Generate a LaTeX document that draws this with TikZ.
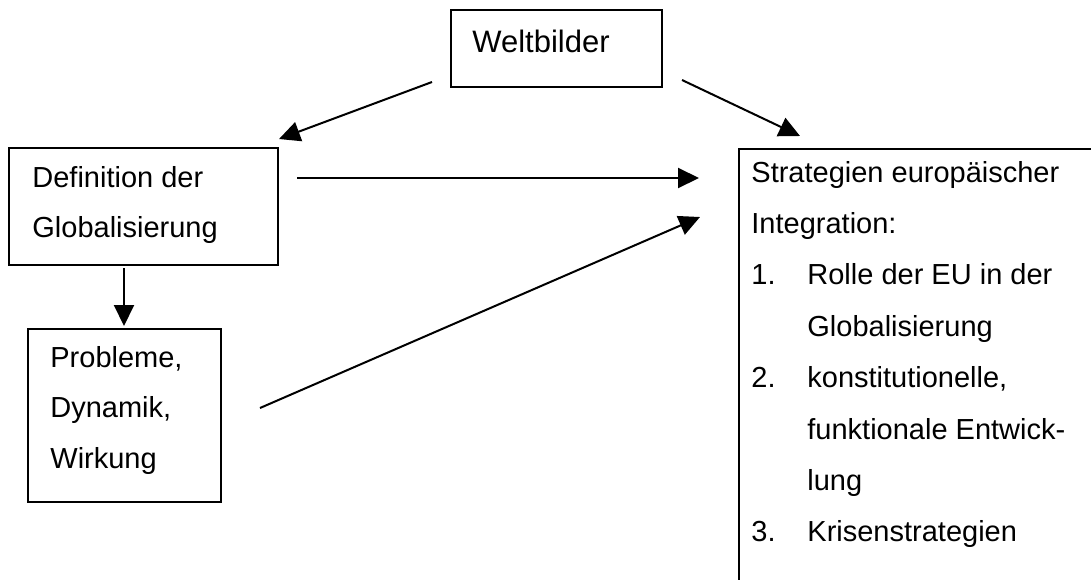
\documentclass[tikz,border=0pt]{standalone}
\usepackage{fontspec}
\setmainfont{Liberation Sans}
\usetikzlibrary{arrows.meta}
\tikzset{
  box/.style={draw=black, line width=1pt, inner sep=0pt, fill=none},
  txt/.style={inner sep=0pt, anchor=base west, font=\fontsize{14.5pt}{17pt}\selectfont},
  bigtxt/.style={inner sep=0pt, anchor=base west, font=\fontsize{15.5pt}{18pt}\selectfont},
  conn/.style={line width=1pt, -{Triangle[length=10.5pt, width=10pt]}},
}
\begin{document}
\begin{tikzpicture}[x=0.5pt, y=-0.5pt]
\useasboundingbox (0,0) rectangle (1091,579);
\clip (0,0) rectangle (1091,579);
\fill[white] (0,0) rectangle (1091,579);
% boxes
\node[box, minimum width=105.5pt, minimum height=38.5pt] (wb) at (556.5,48.5) {};
\node[box, minimum width=134.5pt, minimum height=58.5pt] (def) at (143.5,206.5) {};
\node[box, minimum width=96.5pt, minimum height=86.5pt] (prob) at (124.5,415.5) {};
\node[box, minimum width=330.5pt, minimum height=325.5pt] (strat) at (1069.5,474.5) {};
% texts
\node[bigtxt] (twb) at (472,52) {Weltbilder};
\node[txt] (td1) at (32,187) {Definition der};
\node[txt] (td2) at (32,237) {Globalisierung};
\node[txt] (tp1) at (50,367) {Probleme,};
\node[txt] (tp2) at (50,417.5) {Dynamik,};
\node[txt] (tp3) at (50,468) {Wirkung};
\node[txt] (ts1) at (751,182) {Strategien europäischer};
\node[txt] (ts2) at (751,233.4) {Integration:};
\node[txt] (ts3) at (751,284.8) {\makebox[28pt][l]{1.}Rolle der EU in der};
\node[txt] (ts4) at (807,336.2) {Globalisierung};
\node[txt] (ts5) at (751,387.6) {\makebox[28pt][l]{2.}konstitutionelle,};
\node[txt] (ts6) at (807,439) {funktionale Entwick-};
\node[txt] (ts7) at (807,490.4) {lung};
\node[txt] (ts8) at (751,541.8) {\makebox[28pt][l]{3.}Krisenstrategien};
% connector endpoints
\coordinate (a1s) at (432,82);
\coordinate (a1e) at (279,139);
\coordinate (a2s) at (682,80);
\coordinate (a2e) at (800,136);
\coordinate (a3s) at (297,178);
\coordinate (a3e) at (699,178);
\coordinate (a4s) at (260,408);
\coordinate (a4e) at (700,217);
\coordinate (a5s) at (124,268);
\coordinate (a5e) at (124,326);
\draw[conn] (a1s) -- (a1e);
\draw[conn] (a2s) -- (a2e);
\draw[conn] (a3s) -- (a3e);
\draw[conn] (a4s) -- (a4e);
\draw[conn] (a5s) -- (a5e);
\end{tikzpicture}
\end{document}
